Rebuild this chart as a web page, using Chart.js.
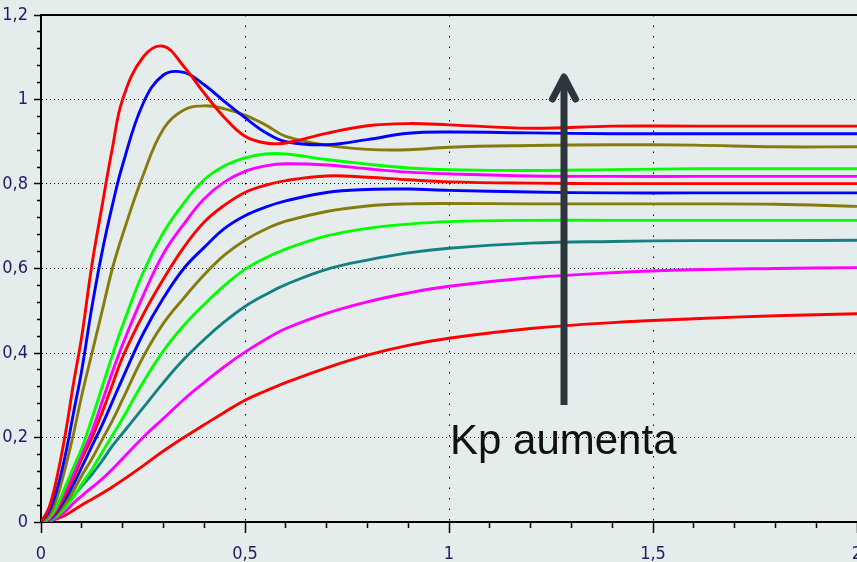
<!DOCTYPE html>
<html>
<head>
<meta charset="utf-8">
<script src="https://cdn.jsdelivr.net/npm/chart.js@4"></script>
<style>
  html, body { margin: 0; padding: 0; overflow: hidden; background: #e5edec; }
  #wrap { position: relative; width: 870px; height: 562px; }
  #note { position: absolute; left: 450px; top: 419px; font: 42px/42px "Liberation Sans", Arial, sans-serif; color: #111; white-space: nowrap; }
  #arrow { position: absolute; left: 0; top: 0; pointer-events: none; }
</style>
</head>
<body>
<div id="wrap">
  <canvas id="chart"></canvas>
  <svg id="arrow" width="870" height="562">
    <line x1="564" y1="405" x2="564" y2="80" stroke="#2c363c" stroke-width="7"/>
    <polyline points="552.5,99 564,77 575.5,99" fill="none" stroke="#2c363c" stroke-width="7" stroke-linecap="round" stroke-linejoin="round"/>
  </svg>
  <div id="note">Kp aumenta</div>
</div>
<script>
// time axis (s)
const T = [0, 0.02, 0.04, 0.06, 0.08, 0.1, 0.125, 0.15, 0.175, 0.2, 0.25, 0.3, 0.35, 0.4, 0.45, 0.5, 0.55, 0.6, 0.7, 0.8, 0.9, 1.0, 1.2, 1.4, 1.6, 1.8, 2.0];

// step responses, highest Kp first
const red1     = [0, 0.035, 0.11, 0.21, 0.33, 0.44, 0.61, 0.75, 0.885, 1.0, 1.1, 1.126, 1.078, 1.015, 0.957, 0.913, 0.897, 0.897, 0.92, 0.938, 0.943, 0.94, 0.932, 0.937, 0.937, 0.937, 0.937];
const blue2    = [0, 0.025, 0.08, 0.16, 0.26, 0.36, 0.51, 0.64, 0.75, 0.845, 0.99, 1.058, 1.064, 1.035, 0.995, 0.957, 0.922, 0.9, 0.893, 0.905, 0.92, 0.923, 0.921, 0.919, 0.919, 0.919, 0.919];
const olive3   = [0, 0.015, 0.06, 0.13, 0.21, 0.3, 0.4, 0.5, 0.6, 0.68, 0.82, 0.93, 0.975, 0.985, 0.978, 0.963, 0.94, 0.913, 0.892, 0.882, 0.881, 0.887, 0.891, 0.893, 0.892, 0.888, 0.888];
const green4   = [0, 0.01, 0.04, 0.085, 0.13, 0.175, 0.245, 0.32, 0.395, 0.465, 0.59, 0.685, 0.755, 0.81, 0.843, 0.862, 0.871, 0.871, 0.858, 0.847, 0.838, 0.834, 0.832, 0.834, 0.836, 0.836, 0.836];
const magenta5 = [0, 0.008, 0.035, 0.075, 0.115, 0.16, 0.215, 0.285, 0.355, 0.42, 0.535, 0.635, 0.705, 0.765, 0.805, 0.83, 0.843, 0.848, 0.845, 0.836, 0.828, 0.824, 0.819, 0.818, 0.818, 0.818, 0.818];
const red6     = [0, 0.006, 0.03, 0.065, 0.105, 0.15, 0.2, 0.26, 0.325, 0.39, 0.49, 0.575, 0.65, 0.71, 0.75, 0.78, 0.797, 0.808, 0.819, 0.816, 0.81, 0.805, 0.802, 0.801, 0.801, 0.801, 0.801];
const blue7    = [0, 0.005, 0.025, 0.055, 0.09, 0.13, 0.18, 0.23, 0.285, 0.34, 0.445, 0.53, 0.6, 0.65, 0.695, 0.725, 0.745, 0.76, 0.78, 0.787, 0.788, 0.785, 0.781, 0.779, 0.779, 0.779, 0.779];
const olive8   = [0, 0.004, 0.02, 0.045, 0.075, 0.11, 0.15, 0.195, 0.24, 0.29, 0.39, 0.47, 0.53, 0.585, 0.632, 0.667, 0.693, 0.712, 0.735, 0.748, 0.753, 0.754, 0.753, 0.753, 0.753, 0.752, 0.747];
const green9   = [0, 0.003, 0.015, 0.035, 0.06, 0.09, 0.125, 0.165, 0.205, 0.245, 0.33, 0.405, 0.465, 0.515, 0.56, 0.598, 0.625, 0.646, 0.677, 0.695, 0.705, 0.711, 0.714, 0.714, 0.714, 0.714, 0.714];
const teal10   = [0, 0.003, 0.015, 0.04, 0.062, 0.085, 0.113, 0.145, 0.18, 0.21, 0.27, 0.33, 0.385, 0.432, 0.474, 0.51, 0.538, 0.562, 0.598, 0.62, 0.637, 0.648, 0.66, 0.664, 0.666, 0.666, 0.667];
const magenta11= [0, 0.002, 0.01, 0.025, 0.045, 0.062, 0.082, 0.102, 0.125, 0.15, 0.2, 0.245, 0.29, 0.33, 0.368, 0.402, 0.432, 0.458, 0.494, 0.521, 0.542, 0.558, 0.578, 0.59, 0.597, 0.6, 0.602];
const red12    = [0, 0.002, 0.008, 0.016, 0.028, 0.04, 0.054, 0.068, 0.083, 0.099, 0.133, 0.168, 0.2, 0.23, 0.26, 0.288, 0.31, 0.33, 0.365, 0.395, 0.418, 0.435, 0.458, 0.472, 0.481, 0.488, 0.493];

const series = [red1, blue2, olive3, green4, magenta5, red6, blue7, olive8, green9, teal10, magenta11, red12];
const colors = ['#ff0000', '#0000ff', '#867b0c', '#00ff00', '#ff00ff', '#ff0000', '#0000ff', '#867b0c', '#00ff00', '#148080', '#ff00ff', '#ff0000'];

const labelFont = { family: "'Liberation Sans Narrow', 'Arial Narrow', 'DejaVu Sans Condensed', sans-serif", size: 18 };
const labelColor = '#1e1e66';

const datasets = series.map((vals, i) => ({
  data: T.map((t, j) => ({ x: t, y: vals[j] })),
  borderColor: colors[i],
  borderWidth: 2.9,
  pointRadius: 0,
  fill: false,
  tension: 0.4
}));

const yMajor = v => Math.round(v * 100) % 20 === 0;
const xMajor = v => Math.round(v * 10) % 5 === 0;

new Chart(document.getElementById('chart'), {
  type: 'line',
  data: { datasets },
  options: {
    responsive: true,
    maintainAspectRatio: false,
    animation: false,
    layout: { autoPadding: false, padding: { top: 15, right: 13, left: 0, bottom: 0 } },
    plugins: { legend: { display: false }, tooltip: { enabled: false } },
    scales: {
      x: {
        type: 'linear', min: 0, max: 2,
        afterFit: s => { s.height = 40; s.paddingLeft = 0; s.paddingRight = 0; },
        border: { color: '#000', width: 2, dash: [1.5, 9] },
        grid: {
          color: c => (c.tick && xMajor(c.tick.value) && c.tick.value > 0 && c.tick.value < 2) ? '#000' : 'rgba(0,0,0,0)',
          lineWidth: 1,
          tickColor: '#000',
          tickWidth: 1.5,
          tickLength: 11,
          tickBorderDash: c => (c.tick && xMajor(c.tick.value)) ? [] : [5, 20]
        },
        ticks: {
          stepSize: 0.1, autoSkip: false, maxRotation: 0, padding: 11,
          color: labelColor, font: labelFont,
          callback: v => xMajor(v) ? String(Math.round(v * 10) / 10).replace('.', ',') : ''
        }
      },
      x2: {
        type: 'linear', position: 'top', min: 0, max: 2,
        afterFit: s => { s.height = 0; s.paddingLeft = 0; s.paddingRight = 0; },
        border: { color: '#000', width: 2 },
        grid: { display: false, drawTicks: false },
        ticks: { display: false }
      },
      y: {
        min: 0, max: 1.2,
        afterFit: s => { s.width = 41; s.paddingTop = 0; s.paddingBottom = 0; },
        border: { color: '#000', width: 2, dash: [1, 3] },
        grid: {
          color: c => (c.tick && yMajor(c.tick.value) && c.tick.value > 0 && c.tick.value < 1.19) ? '#000' : 'rgba(0,0,0,0)',
          lineWidth: 1,
          tickColor: '#000',
          tickWidth: 1.5,
          tickLength: 7,
          tickBorderDash: c => (c.tick && yMajor(c.tick.value)) ? [] : [3, 3],
          tickBorderDashOffset: c => (c.tick && yMajor(c.tick.value)) ? 0 : 3
        },
        ticks: {
          stepSize: 0.04, autoSkip: false, padding: 6,
          color: labelColor, font: labelFont,
          callback: v => yMajor(v) ? String(Math.round(v * 100) / 100).replace('.', ',') : ''
        }
      }
    }
  }
});
</script>
</body>
</html>
